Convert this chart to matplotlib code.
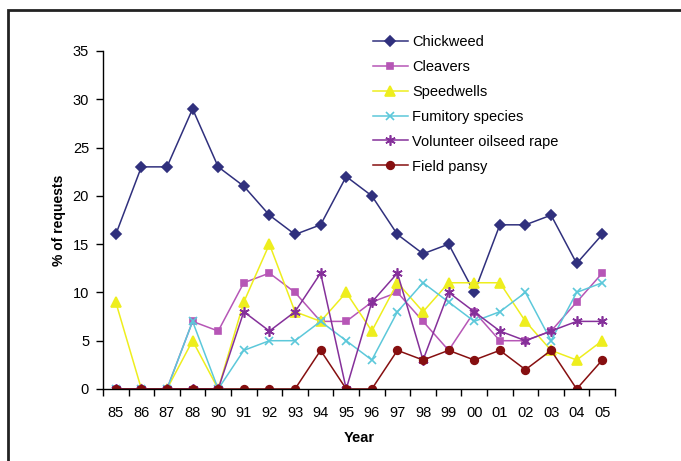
import matplotlib
matplotlib.use("Agg")
import matplotlib.pyplot as plt
from matplotlib.patches import Rectangle

plt.rcParams['font.family'] = ['Liberation Sans', 'DejaVu Sans']

years = ["85", "86", "87", "88", "90", "91", "92", "93", "94", "95",
         "96", "97", "98", "99", "00", "01", "02", "03", "04", "05"]

chickweed = [16, 23, 23, 29, 23, 21, 18, 16, 17, 22, 20, 16, 14, 15, 10, 17, 17, 18, 13, 16]
cleavers = [0, 0, 0, 7, 6, 11, 12, 10, 7, 7, 9, 10, 7, 4, 8, 5, 5, 6, 9, 12]
speedwells = [9, 0, 0, 5, 0, 9, 15, 8, 7, 10, 6, 11, 8, 11, 11, 11, 7, 4, 3, 5]
fumitory = [0, 0, 0, 7, 0, 4, 5, 5, 7, 5, 3, 8, 11, 9, 7, 8, 10, 5, 10, 11]
oilseed_rape = [0, 0, 0, 0, 0, 8, 6, 8, 12, 0, 9, 12, 3, 10, 8, 6, 5, 6, 7, 7]
field_pansy = [0, 0, 0, 0, 0, 0, 0, 0, 4, 0, 0, 4, 3, 4, 3, 4, 2, 4, 0, 3]

series = [
    ("Chickweed", chickweed, "#30307d", "D", 5),
    ("Cleavers", cleavers, "#b656b6", "s", 5),
    ("Speedwells", speedwells, "#eeee1e", "^", 6.5),
    ("Fumitory species", fumitory, "#5cc8da", "x", 6),
    ("Volunteer oilseed rape", oilseed_rape, "#85309a", (6, 2, 0), 7.5),
    ("Field pansy", field_pansy, "#860f10", "o", 5.5),
]

fig = plt.figure(figsize=(6.81, 4.61), dpi=100)
ax = fig.add_axes([0.1512, 0.1562, 0.752, 0.7332])

x = list(range(len(years)))
for name, vals, col, mk, ms in series:
    ax.plot(x, vals, color=col, marker=mk, markersize=ms, linewidth=1.1,
            markeredgewidth=1.2, markerfacecolor=col, markeredgecolor=col,
            label=name)

ax.set_xlim(-0.5, len(years) - 0.5)
ax.set_ylim(0, 35)
ax.set_yticks(range(0, 36, 5))
ax.set_xticks(x)
ax.set_xticklabels(years)
ax.set_xticks([i - 0.5 for i in range(len(years) + 1)], minor=True)
ax.tick_params(axis='x', which='major', length=0, labelsize=10.5, pad=12)
ax.tick_params(axis='x', which='minor', length=5, width=1)
ax.tick_params(axis='y', length=5, width=1, labelsize=10.5, pad=5)
for s in ['top', 'right']:
    ax.spines[s].set_visible(False)
for s in ['left', 'bottom']:
    ax.spines[s].set_linewidth(1.0)

ax.set_ylabel("% of requests", fontsize=10, fontweight='bold', labelpad=5)
ax.set_xlabel("Year", fontsize=10.5, fontweight='bold', labelpad=8)

ax.legend(loc='upper left', bbox_to_anchor=(0.515, 1.065), frameon=False,
          fontsize=10.5, handlelength=2.4, handletextpad=0.3,
          labelspacing=0.75, borderaxespad=0)

fig.patches.append(Rectangle((8 / 681, -0.1), 1.2, 1.1 - 10 / 461,
                             transform=fig.transFigure, fill=False,
                             edgecolor='#222222', linewidth=2.0))

fig.savefig("out.png", dpi=100)
